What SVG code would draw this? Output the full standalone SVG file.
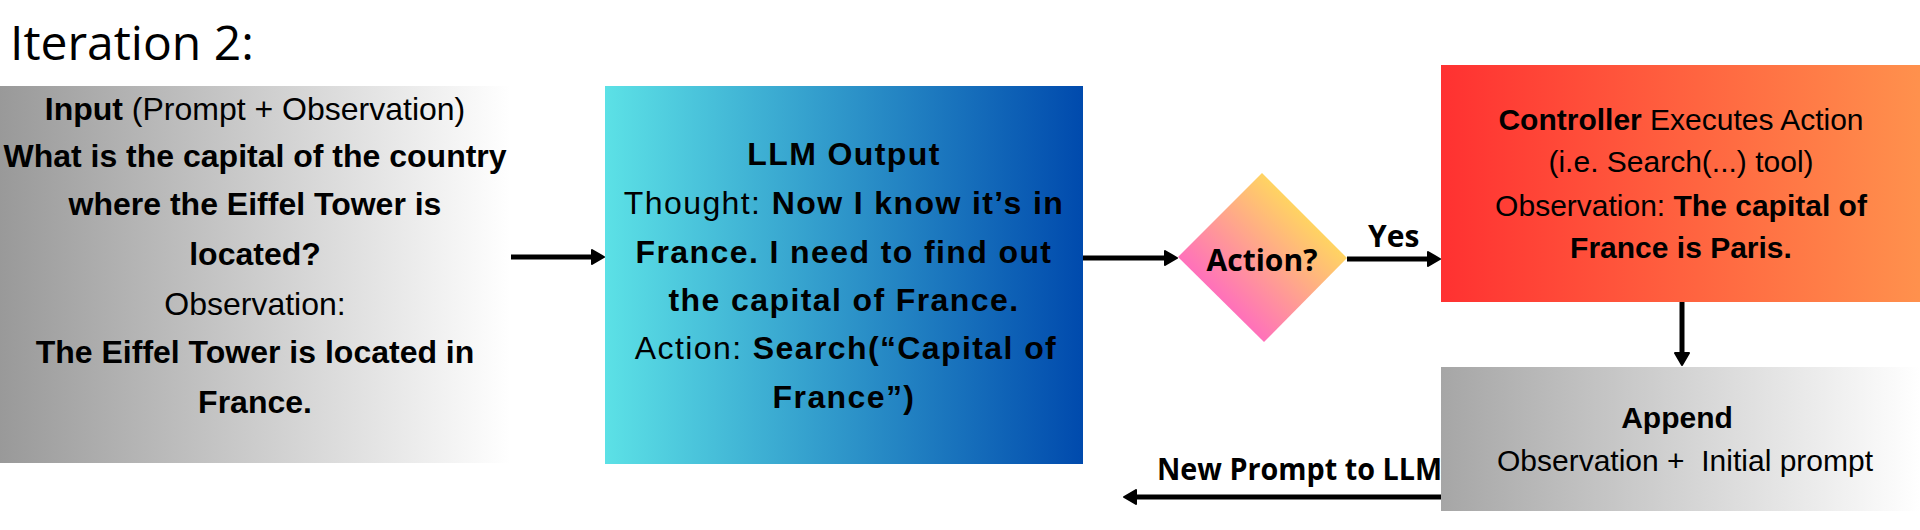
<svg xmlns="http://www.w3.org/2000/svg" width="1920" height="530" viewBox="0 0 1920 530">
<style>
.t{font-family:"Liberation Sans",Arial,sans-serif;font-size:32px;fill:#000;text-anchor:middle;white-space:pre}
.b{font-weight:bold}
.c{font-size:30px}
.w{letter-spacing:1.4px}
.title{font-family:"Open Sans",sans-serif;font-size:48px;fill:#000}
.os{font-family:"Open Sans",sans-serif;font-weight:bold;font-size:30px;fill:#000}
.conn{stroke:#000;stroke-width:5;fill:none}
</style>
<defs>
<linearGradient id="gGray" x1="0" y1="0" x2="1" y2="0">
<stop offset="0" stop-color="#999999"/><stop offset="1" stop-color="#ffffff"/>
</linearGradient>
<linearGradient id="gGray2" x1="0" y1="0" x2="1" y2="0">
<stop offset="0" stop-color="#a6a6a6"/><stop offset="1" stop-color="#ffffff"/>
</linearGradient>
<linearGradient id="gBlue" x1="0" y1="0" x2="1" y2="0">
<stop offset="0" stop-color="#5ce1e6"/><stop offset="1" stop-color="#004aad"/>
</linearGradient>
<linearGradient id="gRed" x1="0" y1="0" x2="1" y2="0">
<stop offset="0" stop-color="#ff3131"/><stop offset="1" stop-color="#ff914d"/>
</linearGradient>
<linearGradient id="gDia" x1="0" y1="1" x2="1" y2="0">
<stop offset="0.2" stop-color="#ff66c4"/><stop offset="0.8" stop-color="#ffde59"/>
</linearGradient>
<marker id="arr" viewBox="0 0 14 16" markerWidth="14" markerHeight="16" refX="3" refY="8" orient="auto" markerUnits="userSpaceOnUse">
<path d="M1,1 L13,8 L1,15 Z" fill="#000" stroke="#000" stroke-width="2" stroke-linejoin="round"/>
</marker>
</defs>
<rect width="1920" height="530" fill="#fff"/>
<text class="title" x="10" y="60">Iteration 2:</text>

<g id="input">
<rect x="0" y="86" width="510" height="377" fill="url(#gGray)"/>
<text class="t" x="255" y="120"><tspan class="b">Input</tspan> (Prompt + Observation)</text>
<text class="t b" x="255" y="167">What is the capital of the country</text>
<text class="t b" x="255" y="215">where the Eiffel Tower is</text>
<text class="t b" x="255" y="265">located?</text>
<text class="t" x="255" y="315">Observation:</text>
<text class="t b" x="255" y="363">The Eiffel Tower is located in</text>
<text class="t b" x="255" y="413">France.</text>
</g>

<g id="llm">
<rect x="605" y="86" width="478" height="378" fill="url(#gBlue)"/>
<text class="t b w" x="844" y="165">LLM Output</text>
<text class="t w" x="844" y="214">Thought: <tspan class="b">Now I know it’s in</tspan></text>
<text class="t b w" x="844" y="263">France. I need to find out</text>
<text class="t b w" x="844" y="311">the capital of France.</text>
<text class="t w" x="846" y="359">Action: <tspan class="b">Search(“Capital of</tspan></text>
<text class="t b w" x="844" y="408">France”)</text>
</g>

<g id="decision">
<polygon points="1262,173 1347,258 1264,342 1178,257" fill="url(#gDia)"/>
<text class="os" x="1262" y="271" text-anchor="middle" font-size="31">Action?</text>
</g>

<g id="controller">
<rect x="1441" y="65" width="479" height="237" fill="url(#gRed)"/>
<text class="t c" x="1681" y="130"><tspan class="b">Controller</tspan> Executes Action</text>
<text class="t c" x="1681" y="172">(i.e. Search(...) tool)</text>
<text class="t c" x="1681" y="216">Observation: <tspan class="b">The capital of</tspan></text>
<text class="t c" x="1681" y="258" font-weight="bold">France is Paris.</text>
</g>

<g id="append">
<rect x="1441" y="367" width="479" height="144" fill="url(#gGray2)"/>
<text class="t b c" x="1677" y="428">Append</text>
<text class="t c" x="1685" y="471">Observation +  Initial prompt</text>
</g>

<g id="connectors">
<line class="conn" x1="511" y1="257" x2="594" y2="257" marker-end="url(#arr)"/>
<line class="conn" x1="1083" y1="258" x2="1167" y2="258" marker-end="url(#arr)"/>
<line class="conn" x1="1347" y1="259" x2="1430" y2="259" marker-end="url(#arr)"/>
<text class="os" x="1368" y="247">Yes</text>
<line class="conn" x1="1682" y1="302" x2="1682" y2="355" marker-end="url(#arr)"/>
<line class="conn" x1="1441" y1="497" x2="1134" y2="497" stroke-width="6" marker-end="url(#arr)"/>
<text class="os" x="1157" y="480" font-size="29" textLength="285" lengthAdjust="spacingAndGlyphs">New Prompt to LLM</text>
</g>
</svg>
